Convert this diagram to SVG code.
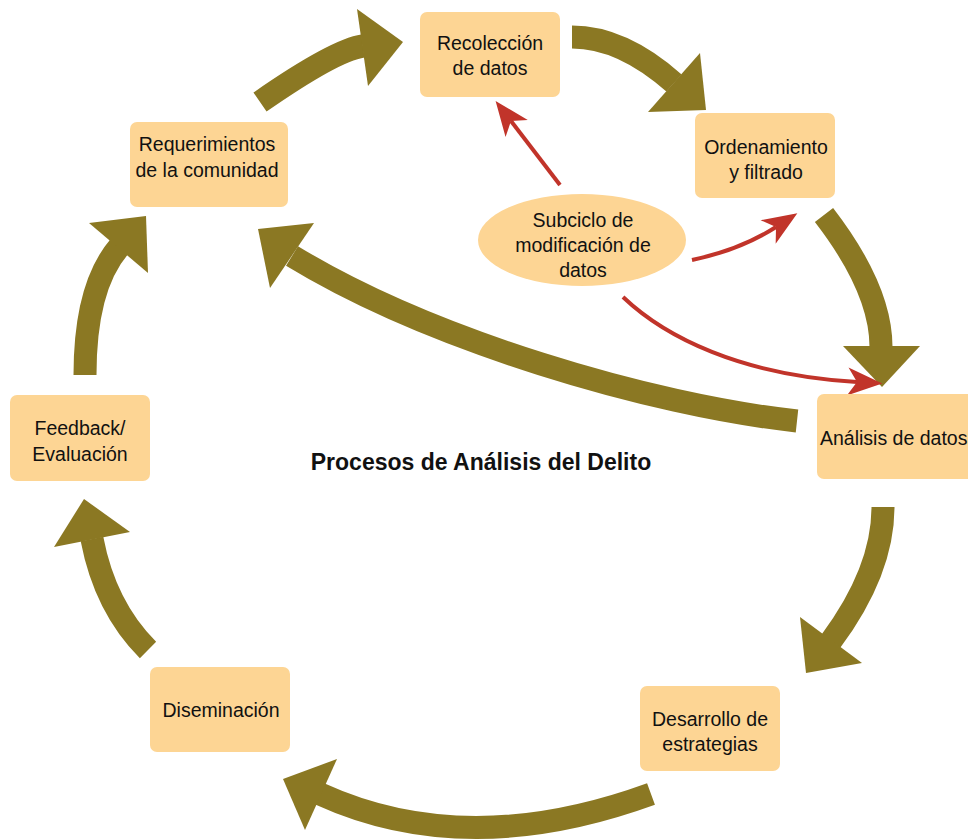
<svg xmlns="http://www.w3.org/2000/svg" width="968" height="840" viewBox="0 0 968 840">
<defs>
<style>
.box{fill:#FDD594;}
.t{font-family:"Liberation Sans",Arial,sans-serif;font-size:19.5px;fill:#111;text-anchor:middle;}
.title{font-family:"Liberation Sans",Arial,sans-serif;font-size:23px;font-weight:bold;fill:#111;text-anchor:middle;}
.big{fill:none;stroke:#8B7823;stroke-width:23;stroke-linecap:butt;}
.head{fill:#8B7823;}
.red{fill:none;stroke:#C1342A;stroke-width:4;marker-end:url(#rh);}
</style>
<marker id="rh" markerUnits="userSpaceOnUse" markerWidth="40" markerHeight="40" viewBox="-10 -12 30 24" refX="0" refY="0" orient="auto" overflow="visible">
<path d="M19,0 L-7,-10.5 L0,0 L-7,10.5 Z" fill="#C1342A"/>
</marker>
</defs>
<rect width="968" height="840" fill="#fff"/>
<g id="connectors">
<path class="big" d="M260,102 Q335,50 363,46"/>
<polygon class="head" points="357,9 368,86 403,42"/>
<path class="big" d="M572,37 Q622,37 674,83"/>
<polygon class="head" points="700,53 648,112 706,110"/>
<path class="big" d="M824,215 Q881,289 881,347"/>
<polygon class="head" points="843,346 920,346 882,387"/>
<path class="big" d="M797,421 C650,405 430,340 292,256"/>
<polygon class="head" points="314,223 270,288 258,229"/>
<path class="big" d="M883,507 Q883,571 831,641"/>
<polygon class="head" points="800,617 862,663 806,673"/>
<path class="big" d="M651,794 Q467,861 320,794"/>
<polygon class="head" points="337,759 305,830 283,779"/>
<path class="big" d="M148,650 Q105,607 92,539"/>
<polygon class="head" points="54,547 130,532 84,499"/>
<path class="big" d="M85,375 Q85,287 119,247"/>
<polygon class="head" points="89,223 148,273 146,216"/>
<path class="red" d="M560,185 L511,121"/>
<path class="red" d="M692,260 Q740,250 776,227"/>
<path class="red" d="M623,297 C665,337 740,375 857,382"/>
</g>
<g id="recoleccion">
<rect class="box" x="420" y="12" width="140" height="85" rx="7"/>
<text class="t" x="490" y="50">Recolección</text>
<text class="t" x="490" y="75">de datos</text>
</g>
<g id="ordenamiento">
<rect class="box" x="695" y="113" width="140" height="85" rx="7"/>
<text class="t" x="766" y="154">Ordenamiento</text>
<text class="t" x="766" y="179">y filtrado</text>
</g>
<g id="requerimientos">
<rect class="box" x="130" y="122" width="158" height="85" rx="7"/>
<text class="t" x="207" y="151">Requerimientos</text>
<text class="t" x="207" y="177">de la comunidad</text>
</g>
<g id="analisis">
<rect class="box" x="817" y="394" width="190" height="85" rx="7"/>
<text class="t" x="820" y="445" style="text-anchor:start">Análisis de datos</text>
</g>
<g id="desarrollo">
<rect class="box" x="640" y="686" width="140" height="85" rx="7"/>
<text class="t" x="710" y="726">Desarrollo de</text>
<text class="t" x="710" y="751">estrategias</text>
</g>
<g id="diseminacion">
<rect class="box" x="150" y="667" width="140" height="85" rx="7"/>
<text class="t" x="221" y="717">Diseminación</text>
</g>
<g id="feedback">
<rect class="box" x="10" y="395" width="140" height="86" rx="7"/>
<text class="t" x="80" y="435">Feedback/</text>
<text class="t" x="80" y="461">Evaluación</text>
</g>
<g id="subciclo">
<ellipse class="box" cx="582" cy="240" rx="104" ry="46"/>
<text class="t" x="583" y="227">Subciclo de</text>
<text class="t" x="583" y="252">modificación de</text>
<text class="t" x="583" y="277">datos</text>
</g>
<g id="title">
<text class="title" x="481" y="470">Procesos de Análisis del Delito</text>
</g>
</svg>
